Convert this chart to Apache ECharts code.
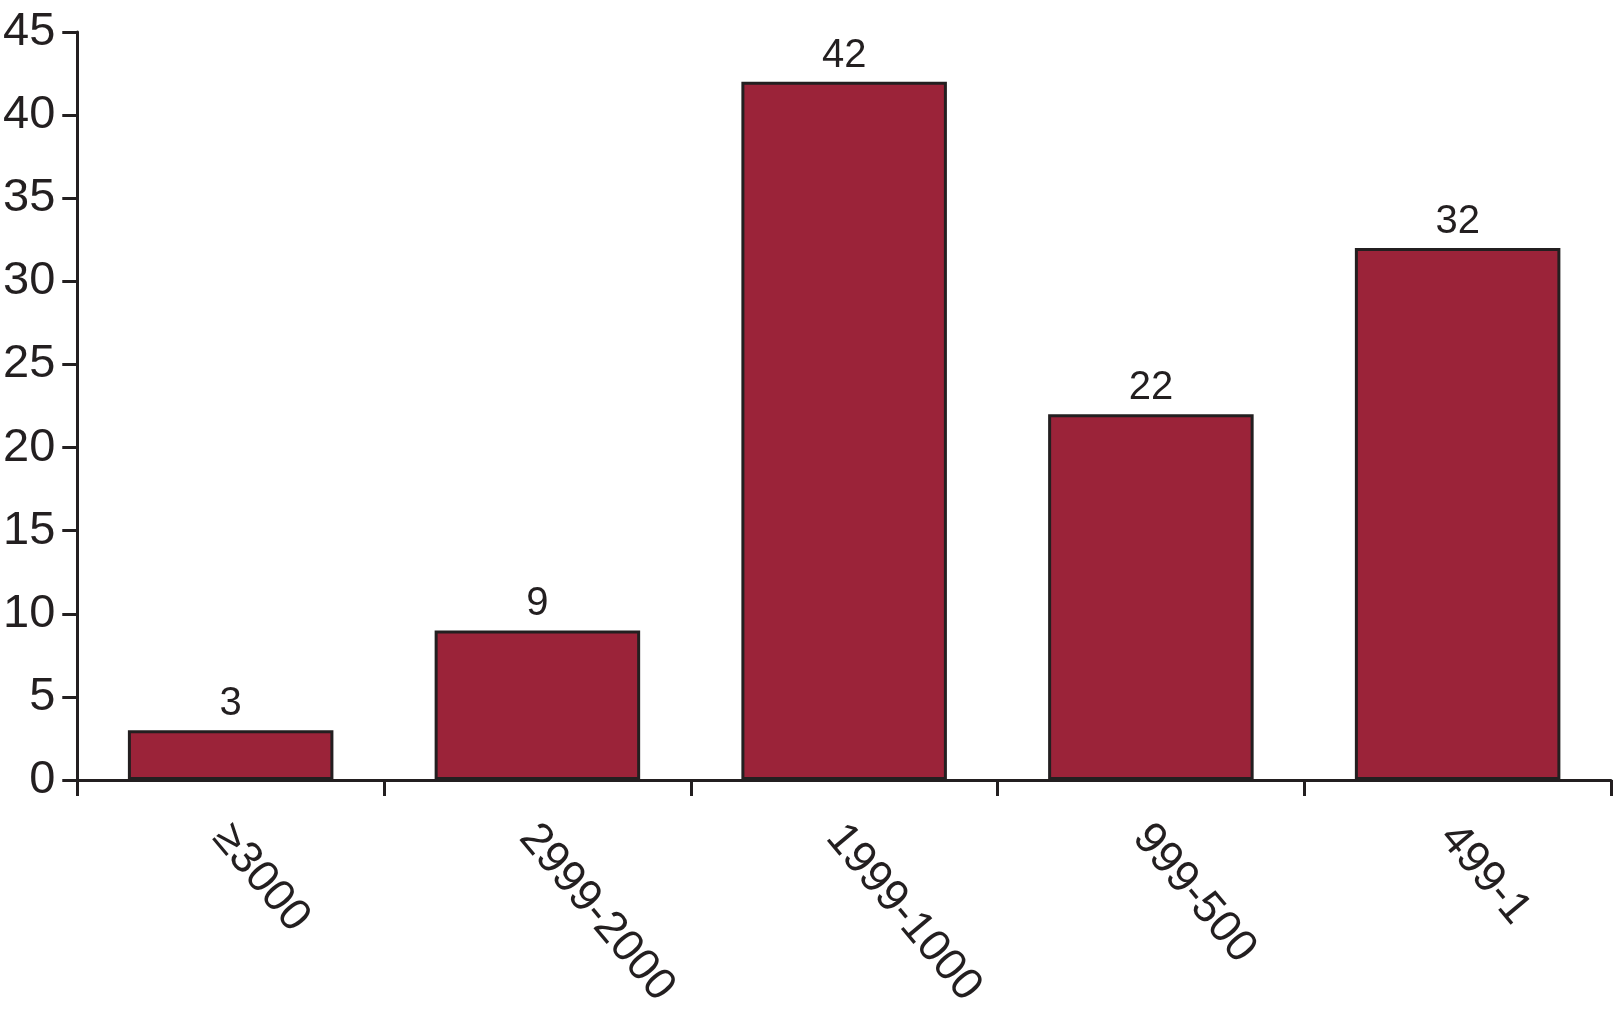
<!DOCTYPE html>
<html>
<head>
<meta charset="utf-8">
<script src="https://cdn.jsdelivr.net/npm/echarts@6/dist/echarts.min.js"></script>
<style>
  html, body { margin: 0; padding: 0; background: #fff; }
  #chart { width: 1613px; height: 1029px; }
</style>
</head>
<body>
<div id="chart"></div>
<script>
  // 分类与数值
  var categories = ['≥3000', '2999-2000', '1999-1000', '999-500', '499-1'];
  var counts = [3, 9, 42, 22, 32];
  var yTicks = { min: 0, max: 45, interval: 5 };

  var ink = '#231f20';
  var font = 'Liberation Sans, Arial, sans-serif';

  var myChart = echarts.init(document.getElementById('chart'));

  var option = {
    animation: false,
    grid: { left: 74, right: 2, top: 32, bottom: 249 },
    xAxis: {
      type: 'category',
      data: categories,
      axisLine: { lineStyle: { color: ink, width: 3 } },
      axisTick: { show: true, length: 16, lineStyle: { color: ink, width: 3 } },
      axisLabel: {
        rotate: -50,
        margin: 42,
        verticalAlign: 'top',
        lineHeight: 26,
        color: ink,
        fontSize: 45,
        fontFamily: font
      }
    },
    yAxis: {
      type: 'value',
      min: yTicks.min,
      max: yTicks.max,
      interval: yTicks.interval,
      splitLine: { show: false },
      axisLine: { show: true, lineStyle: { color: ink, width: 3 } },
      axisTick: { show: true, length: 15, lineStyle: { color: ink, width: 3 } },
      axisLabel: {
        margin: 22,
        color: ink,
        fontSize: 47,
        fontFamily: font
      }
    },
    series: [
      {
        type: 'bar',
        data: counts,
        barWidth: '67%',
        itemStyle: {
          color: '#9b2339',
          borderColor: ink,
          borderWidth: 3
        },
        label: {
          show: true,
          position: 'top',
          distance: 6,
          color: ink,
          fontSize: 40,
          fontFamily: font
        }
      }
    ]
  };
  myChart.setOption(option);
</script>
</body>
</html>
